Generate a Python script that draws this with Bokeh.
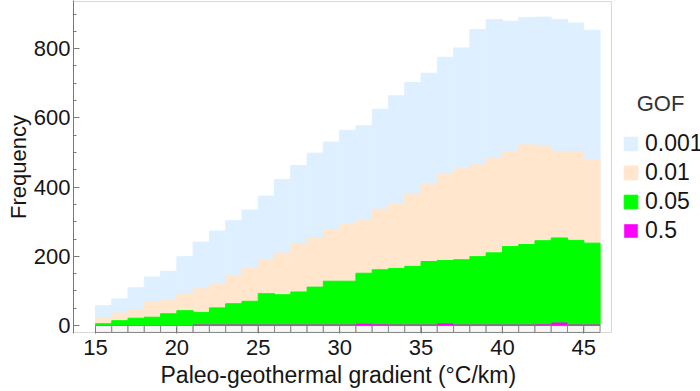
from bokeh.plotting import figure
from bokeh.models import (Range1d, SingleIntervalTicker, FixedTicker, Legend,
                          LegendItem, Label, ColumnDataSource, BoxAnnotation, Title)
from bokeh.embed import file_html
from bokeh.resources import INLINE

# ---- data ----
bin_left = list(range(15, 46))          # histogram bin left edges (°C/km)
bin_width = 1
gof_0001 = [58, 77, 109, 140, 157, 199, 241, 273, 303, 334, 374, 422, 462, 498, 530, 564,
            577, 625, 664, 702, 729, 775, 802, 855, 884, 879, 890, 891, 884, 874, 853]
gof_001 = [21, 36, 45, 67, 72, 90, 106, 122, 145, 167, 188, 209, 236, 253, 277, 292,
           303, 336, 352, 379, 408, 438, 453, 464, 482, 501, 522, 520, 503, 503, 480]
gof_005 = [5, 14, 21, 24, 34, 43, 38, 51, 63, 70, 92, 89, 97, 111, 128, 128,
           151, 161, 165, 171, 185, 188, 190, 199, 210, 228, 234, 245, 253, 246, 238]
gof_05 = [0, 0, 0, 0, 0, 0, 3, 3, 3, 3, 3, 3, 3, 3, 3, 3,
          5, 4, 3, 3, 3, 6, 3, 3, 3, 3, 3, 4, 9, 3, 3]
series_labels = ["0.001", "0.01", "0.05", "0.5"]
series_colors = ["#DEF0FF", "#FFE6CC", "#00FF00", "#FF00FF"]
x_ticks = [15, 20, 25, 30, 35, 40, 45]
x_label = "Paleo-geothermal gradient (°C/km)"
y_label = "Frequency"
legend_title = "GOF"

# plot box (data extent of the drawn frame)
X_MIN, X_MAX = 13.65, 46.7
Y_MIN, Y_MAX = -20, 936

FONT = "Liberation Sans"
TEXT = "#161616"
GRAY = "#7a7a7a"

p = figure(width=700, height=391, output_backend="svg", toolbar_location=None,
           x_range=Range1d(X_MIN, 52.17), y_range=Range1d(-23, 939),
           min_border_left=73, min_border_right=0, min_border_top=0,
           min_border_bottom=58)
p.background_fill_color = "white"
p.border_fill_color = "white"
p.outline_line_color = None
p.xgrid.visible = False
p.ygrid.visible = False

src = ColumnDataSource(dict(
    left=bin_left,
    right=[b + bin_width for b in bin_left],
    g0001=gof_0001, g001=gof_001, g005=gof_005, g05=gof_05,
))

renderers = []
for col, color in zip(["g0001", "g001", "g005"], series_colors[:3]):
    r = p.quad(left="left", right="right", bottom=0, top=col, source=src,
               fill_color=color, line_color=color, line_width=1)
    renderers.append(r)

# baseline boxes below zero
p.quad(left="left", right="right", bottom=Y_MIN, top=0, source=src,
       fill_color="#F6F6F6", line_color="#8a8a8a", line_width=1)

r05 = p.quad(left="left", right="right", bottom=0, top="g05", source=src,
             fill_color=series_colors[3], line_color=None)
renderers.append(r05)

# frame box
p.add_layout(BoxAnnotation(left=X_MIN, right=X_MAX, bottom=Y_MIN, top=Y_MAX,
                           fill_alpha=0, line_color=GRAY, line_width=1))

# axes
p.xaxis.ticker = FixedTicker(ticks=x_ticks, minor_ticks=[])
p.yaxis.ticker = SingleIntervalTicker(interval=200, num_minor_ticks=4)
for ax in (p.xaxis[0], p.yaxis[0]):
    ax.major_tick_line_color = GRAY
    ax.minor_tick_line_color = GRAY
    ax.major_tick_in = 6
    ax.major_tick_out = 0
    ax.minor_tick_in = 3
    ax.minor_tick_out = 0
    ax.major_label_text_font = FONT
    ax.major_label_text_font_size = "22px"
    ax.major_label_text_color = TEXT
p.xaxis.axis_line_color = None
p.yaxis.axis_line_color = GRAY
p.yaxis.major_label_standoff = 3
p.xaxis.major_label_standoff = 6

p.yaxis.axis_label = y_label
p.yaxis.axis_label_text_font = FONT
p.yaxis.axis_label_text_font_size = "22px"
p.yaxis.axis_label_text_font_style = "normal"
p.yaxis.axis_label_text_color = TEXT
p.yaxis.axis_label_standoff = 0

p.add_layout(Title(text=x_label, align="left", offset=87, standoff=5,
                   text_font=FONT, text_font_size="23px", text_font_style="normal",
                   text_color=TEXT), "below")

# legend
items = [LegendItem(label=lab, renderers=[r]) for lab, r in zip(series_labels, renderers)]
legend = Legend(items=items, location=(549, 89), padding=0, margin=0, spacing=1,
                glyph_width=17, glyph_height=17, label_standoff=6, label_height=28,
                label_text_font=FONT, label_text_font_size="23px",
                label_text_color=TEXT, border_line_color=None,
                background_fill_alpha=0)
p.add_layout(legend)
p.add_layout(Label(x=587, y=230, x_units="screen", y_units="screen", text=legend_title,
                   text_align="center", text_baseline="middle",
                   text_font=FONT, text_font_size="22px", text_color="#333333"))

open("out.html", "w").write(file_html(p, INLINE))
